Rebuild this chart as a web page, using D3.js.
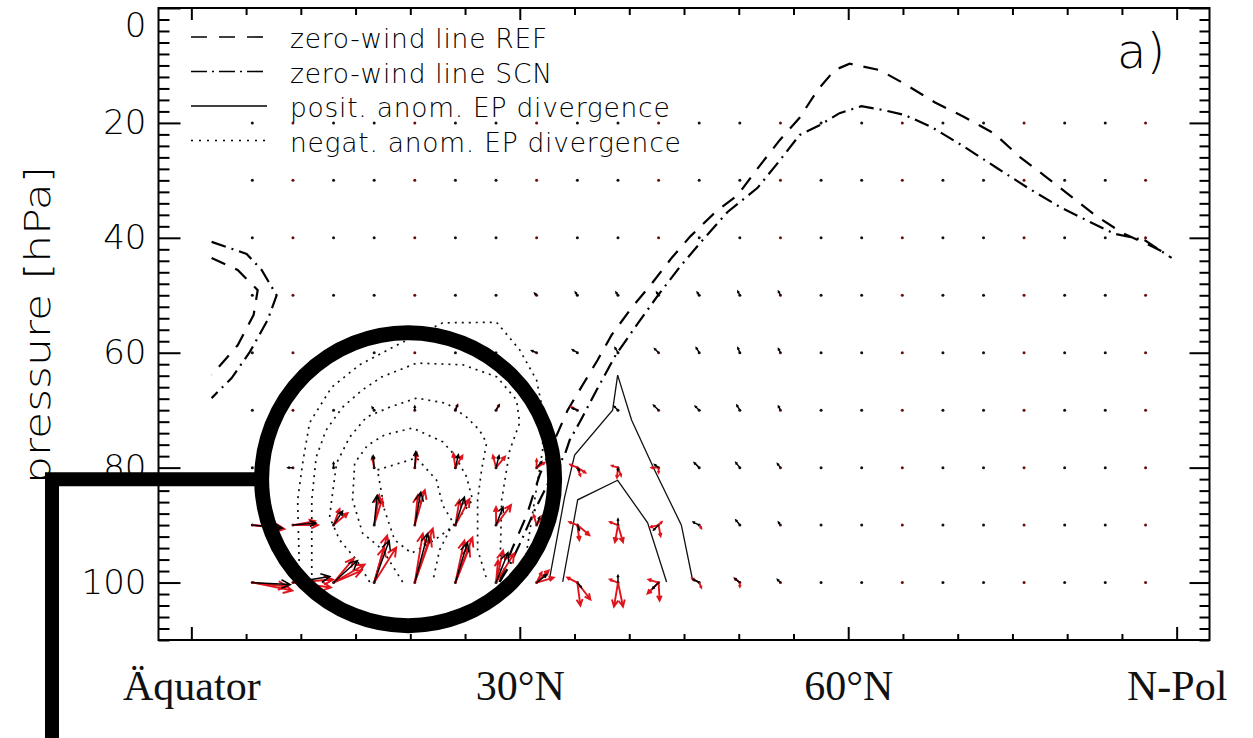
<!DOCTYPE html>
<html>
<head>
<meta charset="utf-8">
<script src="https://cdn.jsdelivr.net/npm/d3@7"></script>
<style>
  body { margin: 0; background: #fff; }
  svg { display: block; }
</style>
</head>
<body>
<div id="chart"></div>
<script>
// grid of the EP flux vectors (T31 gaussian latitudes, pressure levels)
const lats = [5.57, 9.28, 12.99, 16.70, 20.41, 24.12, 27.83, 31.54, 35.26, 38.97, 42.68, 46.39,
    50.10, 53.81, 57.52, 61.23, 64.94, 68.65, 72.36, 76.06, 79.77, 83.48, 87.16];
const levels = [20, 30, 40, 50, 60, 70, 80, 90, 100];

// [column index, level, eastward comp, upward comp] (arrow units)
const blackArrows = [
    [0,100,38,-2],[1,100,37,6],[2,100,24,22],[3,100,15,42],[4,100,13,49],[5,100,12,40],[6,100,12,30],
    [7,100,10,8],[8,100,4,-5],[9,100,0,7],[10,100,-6,-6],[11,100,-6,3],[12,100,-5,4],[13,100,-3,3],
    [0,90,30,-3],[1,90,23,2],[2,90,9,14],[3,90,3,30],[4,90,6,33],[5,90,9,28],[6,90,7,18],
    [7,90,3,8],[8,90,2,-5],[9,90,0,6],[10,90,-5,-5],[11,90,-6,3],[12,90,-4,5],[13,90,-2,3],
    [1,80,-5,0],[2,80,0,5],[3,80,-1,12],[4,80,1,16],[5,80,3,13],[6,80,3,12],[7,80,5,6],
    [8,80,2,-3],[9,80,0,-3],[10,80,-4,3],[11,80,-5,5],[12,80,-4,5],[13,80,-3,4],
    [3,70,-2,3],[4,70,0,4],[5,70,2,5],[6,70,3,5],[7,70,3,3],[8,70,-5,2],[9,70,-4,4],
    [10,70,-5,5],[11,70,-4,4],[12,70,-3,5],[13,70,-2,4],
    [7,60,-5,2],[8,60,-5,3],[9,60,-3,5],[10,60,-4,4],[11,60,-3,5],[12,60,-2,5],[13,60,-2,4],
    [7,50,-2,2],[8,50,-2,3],[9,50,-2,3],[10,50,-2,3],[11,50,-2,3],[12,50,-2,4],[13,50,-2,4]
];
const redArrows = [
    [0,100,40,-8],[0,100,35,-4],[1,100,40,3],[1,100,38,-5],
    [2,100,31,18],[2,100,20,24],[2,100,28,12],[3,100,22,35],[3,100,13,47],[3,100,10,35],
    [4,100,18,54],[4,100,16,45],[4,100,8,49],[5,100,17,45],[5,100,9,42],[5,100,14,35],
    [6,100,18,29],[6,100,7,32],[6,100,2,22],[7,100,17,5],[7,100,12,12],[7,100,5,10],
    [8,100,-10,5],[8,100,3,-23],[8,100,13,-17],[9,100,-4,-24],[9,100,5,-24],[9,100,-8,3],
    [10,100,1,-18],[10,100,-11,-11],[10,100,-10,3],[11,100,-7,4],[11,100,2,-5],
    [12,100,-5,4],[12,100,0,-4],
    [0,90,32,-4],[0,90,28,-2],[1,90,25,0],[1,90,22,4],[2,90,14,12],[2,90,6,16],
    [3,90,8,26],[3,90,5,30],[4,90,10,35],[4,90,3,30],[5,90,14,26],[5,90,4,25],
    [6,90,15,20],[6,90,0,18],[7,90,-3,10],[7,90,7,10],[8,90,12,-10],[8,90,2,-15],[8,90,-8,3],
    [9,90,-3,-17],[9,90,5,-17],[9,90,-8,3],[10,90,2,-11],[10,90,-8,-2],[10,90,3,3],[11,90,2,-3],
    [3,80,-2,10],[4,80,2,15],[5,80,7,12],[5,80,-2,14],[6,80,9,11],[6,80,-3,12],[7,80,8,5],[7,80,0,8],
    [8,80,-7,3],[8,80,8,-5],[8,80,3,-8],[9,80,-6,2],[9,80,3,-8],[9,80,-1,-10],
    [10,80,-7,0],[10,80,0,-5],
    [5,70,2,5],[6,70,3,5],[8,70,-6,3]
];

// zero-wind lines [lat, hPa]
const refMain = [[28.16,99.9],[29.26,94.3],[30.63,88.3],[31.81,81.3],[33.18,75.2],[34.37,70.0],[35.46,66.5],
    [37.1,61.3],[38.39,56.9],[40.21,52.2],[42.04,48.0],[43.87,43.5],[45.6,39.7],[47.88,35.5],[49.89,32.6],
    [51.73,27.9],[53.74,23.0],[55.56,19.1],[57.2,14.3],[58.76,10.8],[60.13,9.7],[62.87,10.8],[65.15,13.2],
    [67.89,16.4],[70.63,19.0],[73.37,21.9],[75.66,25.9],[77.94,29.2],[80.23,32.6],[82.51,36.0],
    [85.07,39.2],[87.54,41.3],[89.36,43.0]];
const refLeft = [[1.85,43.5],[4.23,45.6],[6.06,49.1],[5.69,53.4],[4.23,58.7],[1.85,63.9]];
const scnMain = [[28.16,99.9],[29.07,97.0],[30.17,92.6],[31.36,87.4],[32.73,82.2],[34.1,77.8],[34.56,75.2],
    [35.47,72.1],[37.02,66.5],[38.76,60.4],[40.67,55.2],[42.59,50.1],[44.69,44.9],[46.79,40.2],
    [48.98,35.5],[51.72,31.3],[53.64,26.8],[55.56,22.1],[57.38,20.4],[59.21,18.3],[61.2,17.1],
    [63.3,17.8],[65.13,18.6],[67.6,20.7],[70.63,24.2],[73.55,27.8],[76.57,31.5],[79.49,34.8],
    [82.05,37.2],[84.33,39.3],[87.07,40.4],[89.54,43.5]];
const scnLeft = [[1.85,40.7],[5.05,42.8],[6.42,45.6],[7.79,50.0],[6.97,54.3],[5.33,59.9],[3.68,64.4],[1.85,67.9]];

// EP divergence anomaly contours [lat, hPa]
const posContours = [
    [[32.73,99.2],[34.1,85.1],[35.01,77.8],[38.48,70.0],[38.94,63.9],[40.21,71.7],[42.31,80.4],[44.76,90.0],[45.79,99.6]],
    [[33.92,99.9],[35.29,85.6],[38.94,82.2],[41.68,89.6],[43.41,99.9]]
];
const negContours = [
    [[9.89,99.9],[9.71,85.6],[10.17,79.2],[10.8,72.2],[12.82,66.0],[15.37,62.1],[18.75,58.7],[22.95,54.8],
     [27.88,54.7],[29.99,59.5],[31.54,64.8],[32.09,70.0],[32.09,76.9],[31.36,85.6],[30.72,93.5],[30.17,99.9]],
    [[11.0,99.9],[11.0,85.6],[11.4,78.2],[12.3,73.5],[13.8,69.5],[15.6,66.5],[17.4,64.2],[20.6,61.8],
     [24.8,62.1],[27.9,64.2],[29.7,68.2],[29.99,72.2],[29.08,77.0],[28.35,85.6],[28.16,99.9]],
    [[16.29,99.9],[15.1,96.1],[13.54,92.6],[12.63,88.6],[12.82,85.6],[13.27,79.2],[14.46,74.7],[16.0,71.2],
     [18.1,69.5],[20.58,67.9],[23.31,68.8],[25.14,71.2],[26.33,73.5],[26.97,75.7],[26.51,80.4],
     [26.15,85.6],[26.15,94.3],[27.06,99.9]],
    [[19.3,99.9],[17.47,94.3],[15.64,91.4],[14.73,85.6],[14.92,79.2],[16.1,76.1],[17.65,74.3],[20.21,73.1],
     [22.95,75.5],[24.05,77.8],[25.14,81.6],[25.69,85.6],[24.78,87.9],[23.59,90.9],[22.68,94.3],[22.04,99.9]],
    [[17.0,80.4],[20.58,78.3],[22.4,82.2],[22.95,86.5],[24.05,90.0],[22.22,92.6],[20.12,94.9],
     [18.57,92.6],[17.65,87.4],[17.0,80.4]]
];

const xTickVals = [0, 30, 60, 90];
const xTickLabels = ["Äquator", "30°N", "60°N", "N-Pol"];
const yTickVals = [0, 20, 40, 60, 80, 100];
const legendLabels = ["zero-wind line REF", "zero-wind line SCN", "posit. anom. EP divergence", "negat. anom. EP divergence"];
const legendDash = ["16,12", "16,5,2,5", null, "2,6"];

const W = 1253, H = 738;
const svg = d3.select("#chart").append("svg").attr("width", W).attr("height", H);
svg.append("rect").attr("width", W).attr("height", H).attr("fill", "#fff");

const x = d3.scaleLinear().domain([-3, 93]).range([158.5, 1209.5]);
const y = d3.scaleLinear().domain([0, 110]).range([8, 640]);
const vScale = d3.scaleLinear().domain([0, 10]).range([0, 10]);
const line = d3.line().x(d => x(d[0])).y(d => y(d[1]));

const plot = svg.append("g");

// grid dots
const grid = [];
levels.forEach(p => lats.forEach((la, i) => grid.push([la, p, i])));
plot.selectAll(".dot").data(grid).enter().append("circle")
    .attr("cx", d => x(d[0])).attr("cy", d => y(d[1])).attr("r", 1.5)
    .attr("fill", (d) => d[2] % 3 == 1 ? "#6b0d0d" : "#111");

// contours
plot.selectAll(".neg").data(negContours).enter().append("path")
    .attr("d", line).attr("fill", "none").attr("stroke", "#111")
    .attr("stroke-width", 1.7).attr("stroke-dasharray", "2,5");
plot.selectAll(".pos").data(posContours).enter().append("path")
    .attr("d", line).attr("fill", "none").attr("stroke", "#111").attr("stroke-width", 1.3);

// zero wind lines
[refMain, refLeft].forEach(l => plot.append("path").attr("d", line(l)).attr("fill", "none")
    .attr("stroke", "#000").attr("stroke-width", 2.2).attr("stroke-dasharray", "15,11"));
[scnMain, scnLeft].forEach(l => plot.append("path").attr("d", line(l)).attr("fill", "none")
    .attr("stroke", "#000").attr("stroke-width", 2.2).attr("stroke-dasharray", "15,6,2,6"));

function arrowPath(d) {
    let x0 = x(lats[d[0]]), y0 = y(d[1]);
    let dx = vScale(d[2]), dy = -vScale(d[3]);
    let len = Math.hypot(dx, dy);
    let x1 = x0 + dx, y1 = y0 + dy;
    let ang = Math.atan2(dy, dx), h = Math.max(2, Math.min(10, len * 0.3)), a = 0.45;
    return "M" + x0 + "," + y0 + "L" + x1 + "," + y1 +
        "M" + (x1 - h * Math.cos(ang - a)) + "," + (y1 - h * Math.sin(ang - a)) +
        "L" + x1 + "," + y1 +
        "L" + (x1 - h * Math.cos(ang + a)) + "," + (y1 - h * Math.sin(ang + a));
}
plot.selectAll(".red").data(redArrows).enter().append("path")
    .attr("d", arrowPath).attr("fill", "none").attr("stroke", "#e0141c").attr("stroke-width", 1.9);
plot.selectAll(".blk").data(blackArrows).enter().append("path")
    .attr("d", arrowPath).attr("fill", "none").attr("stroke", "#000").attr("stroke-width", 1.5);

// legend
const lg = svg.append("g").attr("class", "legend");
legendLabels.forEach((t, i) => {
    let ly = 37 + i * 34.5;
    let ln = lg.append("line").attr("x1", 191).attr("x2", 267).attr("y1", ly).attr("y2", ly)
        .attr("stroke", "#000").attr("stroke-width", legendDash[i] == "2,6" ? 1.7 : 1.6);
    if (legendDash[i]) ln.attr("stroke-dasharray", legendDash[i]);
    lg.append("text").attr("x", 290).attr("y", ly + 11).text(t)
        .style("font-family", "DejaVu Sans").style("font-weight", 200)
        .style("font-size", "26.5px").style("letter-spacing", "0.75px").attr("fill", "#000");
});
svg.append("text").attr("x", 1117).attr("y", 68).text("a)")
    .style("font-family", "DejaVu Sans").style("font-weight", 200).style("font-size", "48px");

// axes
const axStyle = g => { g.select(".domain").remove(); g.selectAll("line").attr("stroke", "#000").attr("stroke-width", 2); };
const xMinor = d3.range(-0, 95, 5).filter(v => v % 30 != 0 && v <= 93);
const yMinor = d3.range(0, 111, 2).filter(v => v % 20 != 0);

svg.append("g").attr("transform", "translate(0,640)")
    .call(d3.axisBottom(x).tickValues(xTickVals).tickSizeInner(-13).tickSizeOuter(0).tickPadding(30)
        .tickFormat((d, i) => xTickLabels[i]))
    .call(axStyle)
    .call(g => g.selectAll("text").style("font-family", "Liberation Serif").style("font-size", "42px").attr("fill", "#111"));
svg.append("g").attr("transform", "translate(0,640)")
    .call(d3.axisBottom(x).tickValues(xMinor).tickSize(-6).tickFormat("")).call(axStyle);
svg.append("g").attr("transform", "translate(0,8)")
    .call(d3.axisTop(x).tickValues(xTickVals).tickSize(-12).tickFormat("")).call(axStyle);
svg.append("g").attr("transform", "translate(0,8)")
    .call(d3.axisTop(x).tickValues(xMinor).tickSize(-7).tickFormat("")).call(axStyle);

svg.append("g").attr("transform", "translate(158.5,0)")
    .call(d3.axisLeft(y).tickValues(yTickVals).tickSizeInner(-22).tickSizeOuter(0).tickPadding(12))
    .call(axStyle)
    .call(g => g.selectAll("text").style("font-family", "DejaVu Sans").style("font-weight", 200)
        .style("font-size", "34px").attr("fill", "#000"))
    .call(g => g.selectAll(".tick").filter(d => d == 0).select("text").attr("y", 18));
svg.append("g").attr("transform", "translate(158.5,0)")
    .call(d3.axisLeft(y).tickValues(yMinor).tickSize(-11).tickFormat("")).call(axStyle);
svg.append("g").attr("transform", "translate(1209.5,0)")
    .call(d3.axisRight(y).tickValues(yTickVals).tickSize(-20).tickFormat("")).call(axStyle);
svg.append("g").attr("transform", "translate(1209.5,0)")
    .call(d3.axisRight(y).tickValues(yMinor).tickSize(-10).tickFormat("")).call(axStyle);

// frame
svg.append("rect").attr("x", x(-3)).attr("y", y(0)).attr("width", x(93) - x(-3)).attr("height", y(110) - y(0))
    .attr("fill", "none").attr("stroke", "#000").attr("stroke-width", 2);

svg.append("text").attr("transform", "translate(50,325) rotate(-90)").attr("text-anchor", "middle")
    .text("pressure [hPa]")
    .style("font-family", "DejaVu Sans").style("font-weight", 200).style("font-size", "35px")
    .attr("textLength", 318).attr("lengthAdjust", "spacingAndGlyphs");

// highlight circle with pointer line
const cx = x(19.8), cy = y(82);
svg.append("path").attr("d", "M52," + H + "V" + cy + "H" + (cx - 140))
    .attr("fill", "none").attr("stroke", "#000").attr("stroke-width", 14).attr("stroke-linejoin", "miter");
svg.append("circle").attr("cx", cx).attr("cy", cy).attr("r", 146.5)
    .attr("fill", "none").attr("stroke", "#000").attr("stroke-width", 15);
</script>
</body>
</html>
